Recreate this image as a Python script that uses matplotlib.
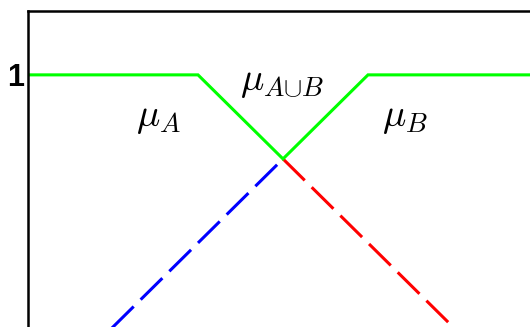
import matplotlib
matplotlib.use("Agg")
import matplotlib.pyplot as plt

# membership values
x_union = [0, 2, 3, 4, 6]
mu_union = [1.0, 1.0, 0.75, 1.0, 1.0]

x_b = [0, 3]
mu_b = [0.0, 0.75]

x_a = [3, 6]
mu_a = [0.75, 0.0]

plt.rcParams['mathtext.fontset'] = 'cm'

fig = plt.figure(figsize=(5.3, 3.27), dpi=100)
# axes runs past the right and bottom edge, the picture is cropped there
ax = fig.add_axes([28 / 530, -84 / 327, 510 / 530, 400 / 327])

ax.plot(x_b, mu_b, color='#0000ff', lw=2.2, dashes=(10, 3.2), solid_capstyle='butt')
ax.plot(x_a, mu_a, color='#ff0000', lw=2.2, dashes=(10, 3.2), solid_capstyle='butt')
ax.plot(x_union, mu_union, color='#00ff00', lw=2.2, solid_joinstyle='miter')

ax.set_xlim(0, 6)
ax.set_ylim(0, 1.19)

ax.set_xticks([])
ax.set_yticks([1])
ax.set_yticklabels(['1'], fontsize=22, fontweight='bold', family='Liberation Sans')
ax.tick_params(axis='y', length=0, pad=3)

for s in ax.spines.values():
    s.set_linewidth(1.8)

ax.text(1.54, 0.875, r'$\mu_A$', fontsize=28, ha='center', va='center')
ax.text(2.99, 0.982, r'$\mu_{A{\cup}B}$', fontsize=28, ha='center', va='center')
ax.text(4.44, 0.875, r'$\mu_B$', fontsize=28, ha='center', va='center')

fig.savefig('out.png', dpi=100)
